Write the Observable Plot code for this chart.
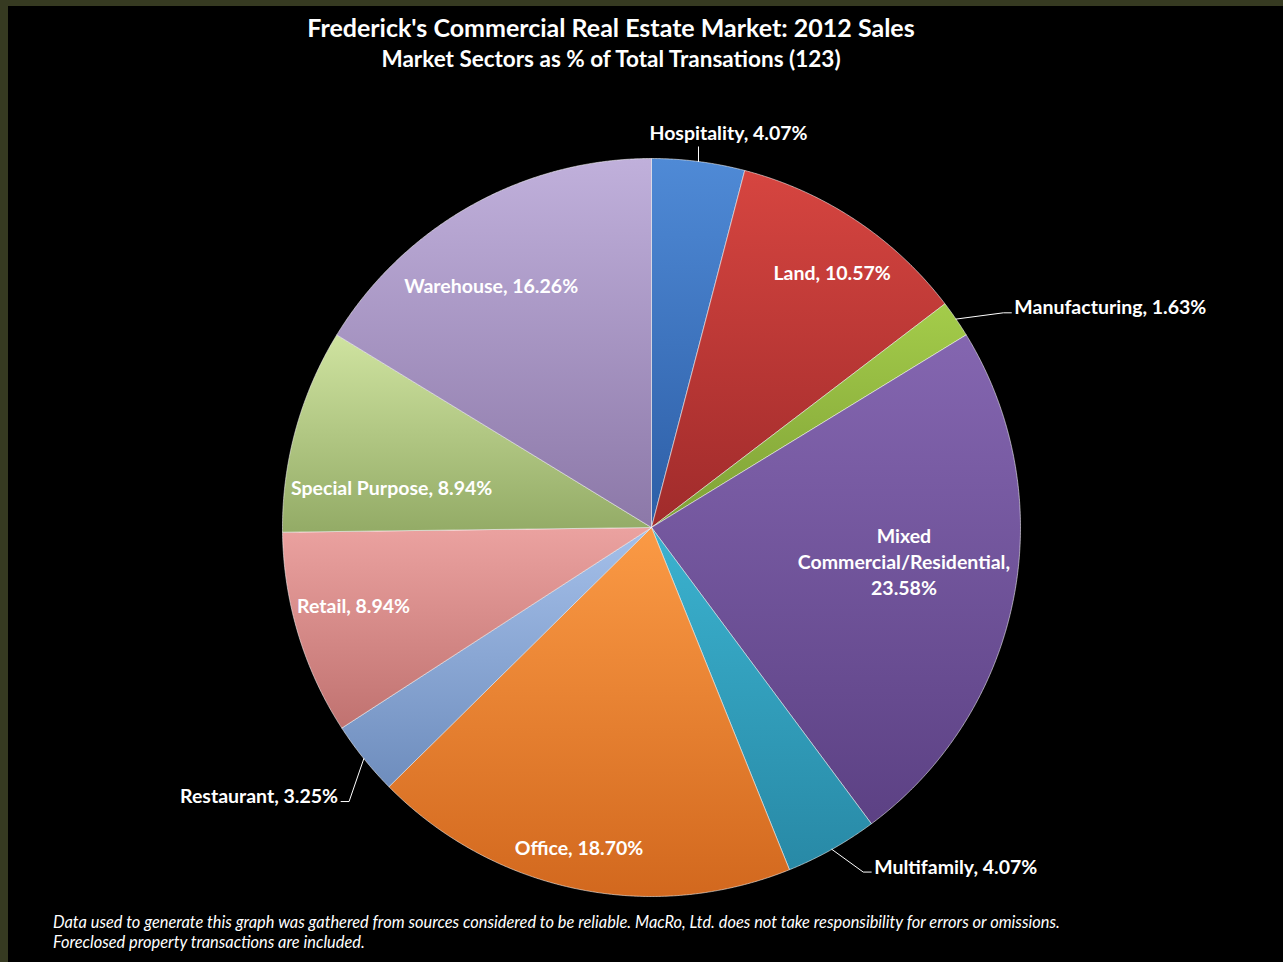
<!DOCTYPE html>
<html><head><meta charset="utf-8">
<script src="https://cdn.jsdelivr.net/npm/d3@7"></script>
<script src="https://cdn.jsdelivr.net/npm/@observablehq/plot@0.6"></script>
<style>
html,body{margin:0;padding:0;background:#363a21;}
#frame{position:relative;width:1283px;height:962px;background:#363a21;overflow:hidden;font-family:Lato,"Open Sans",sans-serif;}
#inner{position:absolute;left:8px;top:6px;right:0;bottom:0;background:#000;}
.t{position:absolute;left:0;width:1222px;text-align:center;color:#fff;font-weight:bold;white-space:nowrap;}
#title{top:12px;font-size:25px;line-height:30px;}
#subtitle{top:46px;font-size:22.5px;line-height:26px;}
#chart{position:absolute;left:0;top:92px;}
#chart svg{overflow:visible;}
#note{position:absolute;left:53px;top:912px;color:#fff;font-style:italic;font-size:16.4px;line-height:20px;white-space:nowrap;}
</style></head>
<body><div id="frame"><div id="inner"></div>
<div id="title" class="t">Frederick's Commercial Real Estate Market: 2012 Sales</div>
<div id="subtitle" class="t">Market Sectors as % of Total Transations (123)</div>
<div id="chart"></div>
<div id="note">Data used to generate this graph was gathered from sources considered to be reliable. MacRo, Ltd. does not take responsibility for errors or omissions.<br>Foreclosed property transactions are included.</div>
</div>
<script>
// ---- data ----
const sectors = ["Hospitality","Land","Manufacturing","Mixed Commercial/Residential","Multifamily","Office","Restaurant","Retail","Special Purpose","Warehouse"];
const counts = [5, 13, 2, 29, 5, 23, 4, 11, 11, 20];

// ---- styles ----
const topColors    = ["#4f8ad6","#d64540","#a4cc4a","#8466b0","#3bb2cf","#fb9a45","#a5c0ea","#eba2a0","#cfe3a0","#c0b0db"];
const bottomColors = ["#2d5ea6","#a02b2b","#7ea036","#5c4184","#2889a6","#d2681e","#6e8dbd","#c07270","#93ab66","#8c78a8"];
// label placement: inside / outside, radius fraction, angular nudge (deg), line-broken label
const labelMode   = ["out","in","out","in","out","in","out","in","in","in"];
const labelRadius = [1.04, 0.85, 1.117, 0.69, 1.096, 0.886, 1.106, 0.834, 0.713, 0.788];
const labelTurn   = [0, 1.5, 3, -3.5, -2.3, 1.1, -3.4, 2.3, -6.4, -4.2];
const labelBreak  = [false, false, false, true, false, false, false, false, false, false];

const W = 1283, H = 810, cx = 651, cy = 435, R = 369;
const total = d3.sum(counts);
const percents = counts.map(c => c / total * 100);
const arcs = d3.pie().sort(null)(counts);

const slices = arcs.map((a, i) => {
  const n = Math.max(4, Math.ceil((a.endAngle - a.startAngle) / 0.004));
  const pts = [{x: 0, y: 0, i}];
  for (let k = 0; k <= n; k++) {
    const t = a.startAngle + (a.endAngle - a.startAngle) * k / n;
    pts.push({x: Math.sin(t), y: Math.cos(t), i});
  }
  pts.push({x: 0, y: 0, i});
  return pts;
});

const labels = [];
const leaders = [];
arcs.forEach((a, i) => {
  const mid = (a.startAngle + a.endAngle) / 2;
  const ang = mid + labelTurn[i] * Math.PI / 180;
  const pct = `${percents[i].toFixed(2)}%`;
  const text = labelBreak[i]
    ? `${sectors[i].replace(" ", "\n")},\n${pct}`
    : `${sectors[i]}, ${pct}`;
  const rr = labelRadius[i];
  if (labelMode[i] === "in") {
    labels.push({x: rr * Math.sin(ang), y: rr * Math.cos(ang), text, anchor: "middle"});
  } else {
    const p0 = {x: Math.sin(mid), y: Math.cos(mid), i};
    const e = {x: rr * Math.sin(ang), y: rr * Math.cos(ang), i};
    if (Math.abs(Math.sin(mid)) < 0.3) {
      leaders.push(p0, {x: p0.x, y: e.y, i});
      labels.push({x: p0.x + 30 / R, y: e.y + 15 / R, text, anchor: "middle"});
    } else {
      const side = Math.sign(Math.sin(mid));
      const tail = {x: e.x + side * 8 / R, y: e.y, i};
      leaders.push(p0, e, tail);
      labels.push({x: tail.x + side * 3 / R, y: e.y + 7 / R, text, anchor: side > 0 ? "start" : "end"});
    }
  }
});

const textOpts = {x: "x", y: "y", text: "text", fill: "#fff", fontWeight: "bold", fontSize: 19.5,
  fontFamily: "Lato, 'Open Sans', sans-serif", lineAnchor: "middle", lineHeight: 1.35};

const svg = Plot.plot({
  width: W, height: H, margin: 0,
  x: {domain: [-cx / R, (W - cx) / R], axis: null},
  y: {domain: [-(H - cy) / R, cy / R], axis: null},
  style: {background: "transparent", color: "#fff"},
  marks: [
    ...slices.map((pts, i) => Plot.line(pts, {x: "x", y: "y", fill: `url(#g${i})`, stroke: "rgba(255,255,255,0.55)", strokeWidth: 1, curve: "linear-closed"})),
    Plot.line(leaders, {x: "x", y: "y", z: "i", stroke: "#fff", strokeWidth: 1}),
    ...["middle", "start", "end"].map(an => Plot.text(labels.filter(d => d.anchor === an), {...textOpts, textAnchor: an}))
  ]
});

const defs = d3.select(svg).insert("defs", ":first-child");
sectors.forEach((s, i) => {
  const g = defs.append("linearGradient").attr("id", "g" + i).attr("x1", 0).attr("y1", 0).attr("x2", 0).attr("y2", 1);
  g.append("stop").attr("offset", "0%").attr("stop-color", topColors[i]);
  g.append("stop").attr("offset", "100%").attr("stop-color", bottomColors[i]);
});
document.getElementById("chart").appendChild(svg);
</script>
</body></html>
